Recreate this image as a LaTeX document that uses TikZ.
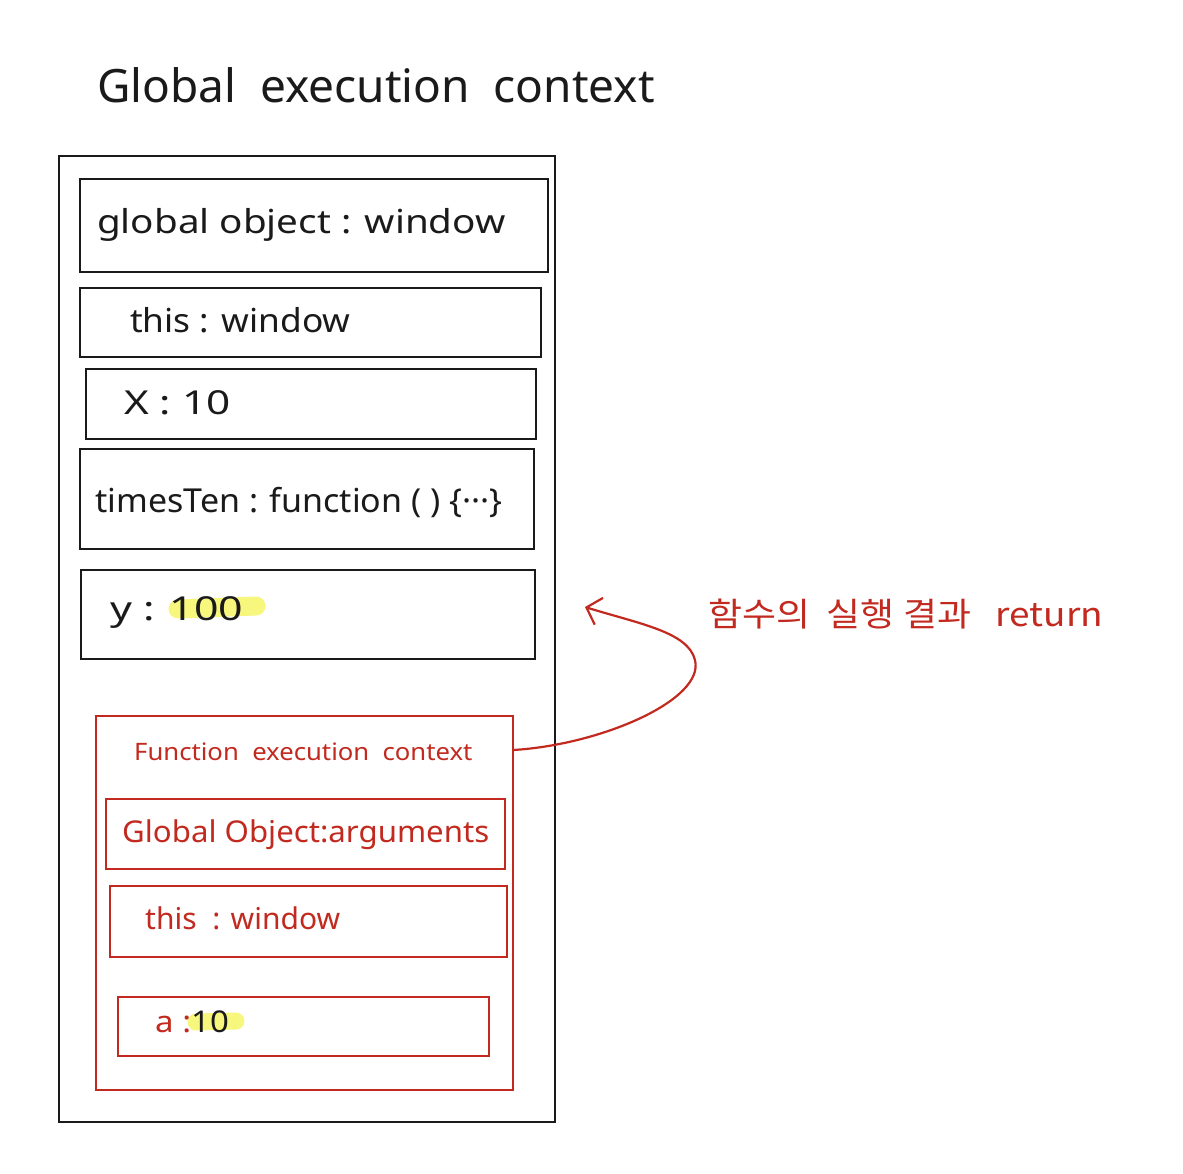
\documentclass[tikz,border=0pt]{standalone}
\usepackage{fontspec}
\usepackage{graphicx}
\setmainfont{Noto Sans}
\newfontfamily\kr{Noto Sans CJK KR}
\usetikzlibrary{arrows.meta}
\definecolor{pen}{HTML}{1A1A1A}
\definecolor{redpen}{HTML}{C22A20}
\definecolor{marker}{HTML}{F7F77E}
\newcommand{\wide}[2]{\scalebox{#1}[1]{#2}}
\begin{document}
\begin{tikzpicture}[x=1pt,y=-1pt,
  blackbox/.style={draw=pen,line width=2.4pt,rectangle,inner sep=0pt},
  redbox/.style={draw=redpen,line width=2.4pt,rectangle,inner sep=0pt},
  blacktext/.style={anchor=west,text=pen,inner sep=0pt,font=\fontsize{33}{36}\selectfont},
  redtext/.style={anchor=west,text=redpen,inner sep=0pt,font=\fontsize{30}{34}\selectfont},
  hilite/.style={draw=marker,line width=19pt,line cap=round}]
\useasboundingbox[fill=white] (0,0) rectangle (1183,1173);

% title
\node[anchor=west,text=pen,inner sep=0pt,font=\fontsize{46}{50}\selectfont] (title) at (97,85) {Global\ \ execution\ \ context};

% global execution context frame and its entries
\node[blackbox,minimum width=496pt,minimum height=966pt] (gec) at (307,639) {};
\node[blackbox,minimum width=468pt,minimum height=93pt] (gobj) at (314,225.5) {};
\node[blackbox,minimum width=461pt,minimum height=69pt] (gthis) at (310.5,322.5) {};
\node[blackbox,minimum width=450pt,minimum height=70pt] (gx) at (311,404) {};
\node[blackbox,minimum width=454pt,minimum height=100pt] (gfn) at (307,499) {};
\node[blackbox,minimum width=454pt,minimum height=89pt] (gy) at (308,614.5) {};

\node[blacktext] (tgobj) at (97,225) {\wide{1.17}{global object : window}};
\node[blacktext] (tgthis) at (130,320) {\wide{1.07}{this : window}};
\node[blacktext] (tgx) at (124,403) {\wide{1.28}{X : 10}};
\node[blacktext] (tgfn) at (95,502) {\wide{1.03}{timesTen : function ( ) \{···\}}};
\draw[hilite] (178,609) -- (256,606);
\node[blacktext] (tgy) at (110,612) {\wide{1.3}{y : 100}};

% function execution context
\node[redbox,minimum width=417pt,minimum height=374pt] (fec) at (304.5,903) {};
\node[anchor=west,text=redpen,inner sep=0pt,font=\fontsize{24}{28}\selectfont] (tfec) at (134,752) {\wide{1.07}{Function\ \ execution\ \ context}};
\node[redbox,minimum width=399pt,minimum height=70pt] (fobj) at (305.5,834) {};
\node[redbox,minimum width=397pt,minimum height=71pt] (fthis) at (308.5,921.5) {};
\node[redbox,minimum width=371pt,minimum height=59pt] (fa) at (303.5,1026.5) {};

\node[redtext] (tfobj) at (122,835) {\wide{1.04}{Global\ Object:arguments}};
\node[redtext] (tfthis) at (145,918) {this\ \ : window};
\draw[hilite,line width=17pt] (196,1022) -- (236,1021);
\node[redtext] (tfa) at (155,1022) {\wide{1.1}{a :\textcolor{pen}{10}}};

% returned value flows back to y
\coordinate (retstart) at (513,750);
\coordinate (rettip) at (585,607);
\draw[redpen,line width=2.2pt,-{Straight Barb[length=13pt,width=28pt]}]
  (retstart) .. controls (600,745) and (705,700) .. (695,660)
  .. controls (688,632) and (640,624) .. (rettip);
\node[anchor=west,text=redpen,inner sep=0pt,font=\kr\fontsize{33}{36}\selectfont] (tret) at (708,614) {\wide{1.12}{함수의\ \ 실행\ 결과\ \ \ return}};
\end{tikzpicture}
\end{document}
